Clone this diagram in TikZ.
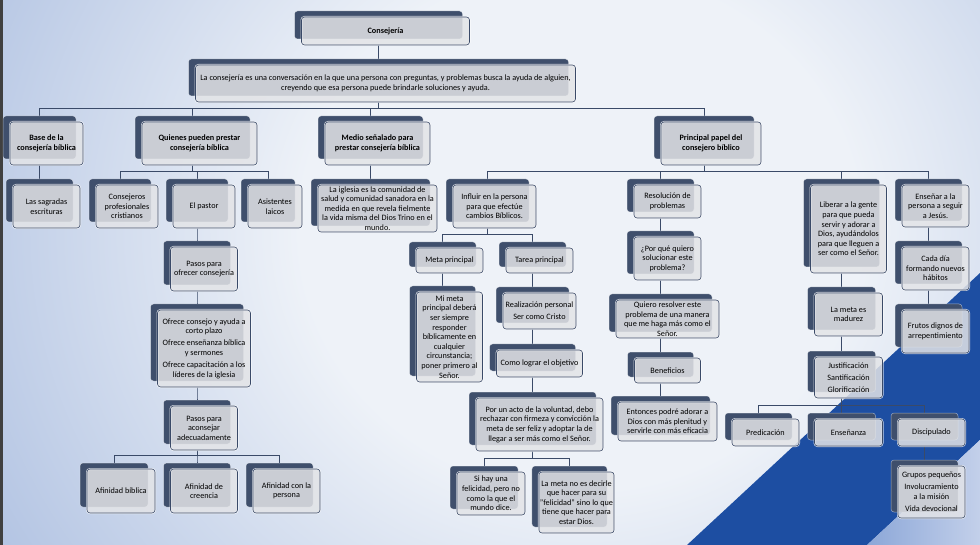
\documentclass[tikz,border=0pt]{standalone}
\usepackage{fontspec}
\setmainfont{Carlito}
\usetikzlibrary{shadows,backgrounds}

\definecolor{backc}{HTML}{3F4F6C}
\definecolor{facec}{HTML}{E3E4E7}
\definecolor{edgec}{HTML}{3A4A68}
\definecolor{linec}{HTML}{3A4A68}
\definecolor{bgmid}{HTML}{EEF2F8}
\definecolor{bgblue}{HTML}{7090CB}
\definecolor{bandc}{HTML}{1D4EA2}
\definecolor{cornera}{HTML}{8CA7D8}
\definecolor{cornerb}{HTML}{C3D0EA}

\pgfdeclareradialshading{bgglow}{\pgfpoint{0bp}{0bp}}{color(0bp)=(bgmid); color(10bp)=(bgmid); color(40bp)=(bgblue); color(50bp)=(bgblue)}

\tikzset{
  box/.style={rounded corners=3pt, draw=edgec, line width=0.6pt, fill=facec, fill opacity=0.85, text opacity=1,
    text=black, align=center, inner sep=1pt, font=\fontsize{8.2}{9.6}\selectfont,
    general shadow={fill=backc, fill opacity=1, draw=white, draw opacity=0.5, line width=0.5pt, shadow xshift=-7pt, shadow yshift=6pt},
    preaction={draw=white, draw opacity=0.75, line width=2pt}},
  head/.style={box, font=\fontsize{8.2}{9.6}\selectfont\bfseries},
  wh/.style 2 args={minimum width=#1pt, minimum height=#2pt},
  link/.style={draw=linec, line width=0.9pt},
  elbow/.style={to path={([xshift=-7pt]\tikztostart.south) |- ([xshift=-7pt,yshift=13.5pt]\tikztotarget.north) -- ([xshift=-7pt]\tikztotarget.north)}},
}

\begin{document}
\begin{tikzpicture}[x=1pt,y=-1pt]

  \useasboundingbox (0,0) rectangle (980,545);

  \begin{scope}[on background layer]
    \clip (0,0) rectangle (980,545);
    \shade[shading=bgglow] (-120,-420) rectangle (1280,880);
    \fill[bandc] (687,545) -- (980,273) -- (980,440) -- (867,545) -- cycle;
    \shade[left color=cornera, right color=cornerb] (867,545) -- (980,440) -- (980,545) -- cycle;
    \fill[black!75] (0,0) rectangle (2.5,545);
  \end{scope}

  \node[head, wh={168}{28}] (cons) at (385.5,31) {Consejería};
  \node[box, wh={380}{37}] (def) at (385.5,83.5) {La consejería es una conversación en la que una persona con preguntas, y problemas busca la ayuda de alguien,\\creyendo que esa persona puede brindarle soluciones y ayuda.};

  \node[head, wh={73}{43}] (base) at (46.5,143.5) {Base de la\\consejería bíblica};
  \node[head, wh={115}{43}] (quien) at (199.5,143.5) {Quienes pueden prestar\\consejería bíblica};
  \node[head, wh={105}{43}] (medio) at (377.5,143.5) {Medio señalado para\\prestar consejería bíblica};
  \node[head, wh={100}{43}] (papel) at (711,143.5) {Principal papel del\\consejero bíblico};

  \node[box, wh={67}{43}] (sagradas) at (46.5,206.5) {Las sagradas\\escrituras};
  \node[box, wh={62}{43}] (consej) at (127,206.5) {Consejeros\\profesionales\\cristianos};
  \node[box, wh={62}{43}] (pastor) at (204,206.5) {El pastor};
  \node[box, wh={54}{43}] (asist) at (275,206.5) {Asistentes\\laicos};
  \node[box, wh={119}{47}] (iglesia) at (377.5,208.5) {La iglesia es la comunidad de\\salud y comunidad sanadora en la\\medida en que revela fielmente\\la vida misma del Dios Trino en el\\mundo.};
  \node[box, wh={83}{43}] (influir) at (494.5,206.5) {Influir en la persona\\para que efectúe\\cambios Bíblicos.};
  \node[box, wh={67}{33}] (resol) at (667.5,201.5) {Resolución de\\problemas};
  \node[box, wh={76}{88}] (liberar) at (848.5,229) {Liberar a la gente\\para que pueda\\servir y adorar a\\Dios, ayudándolos\\para que lleguen a\\ser como el Señor.};
  \node[box, wh={67}{42}] (ensenar) at (935.5,206) {Enseñar a la\\persona a seguir\\a Jesús.};

  \node[box, wh={67}{44}] (pasos1) at (204,269) {Pasos para\\ofrecer consejería};
  \node[box, wh={93}{77}] (ofrece) at (204,348.5) {Ofrece consejo y ayuda a\\corto plazo\\[2.5pt]Ofrece enseñanza bíblica\\y sermones\\[2.5pt]Ofrece capacitación a los\\líderes de la iglesia};
  \node[box, wh={67}{44}] (pasos2) at (204,428) {Pasos para\\aconsejar\\adecuadamente};
  \node[box, wh={68}{44}] (afin1) at (121,491) {Afinidad bíblica};
  \node[box, wh={67}{44}] (afin2) at (204,491) {Afinidad de\\creencia};
  \node[box, wh={67}{44}] (afin3) at (286.5,491) {Afinidad con la\\persona};

  \node[box, wh={67}{25}] (meta) at (449.5,260.5) {Meta principal};
  \node[box, wh={67}{25}] (tarea) at (539.5,260.5) {Tarea principal};
  \node[box, wh={66}{90}] (mimeta) at (449.5,337) {Mi meta\\principal deberá\\ser siempre\\responder\\bíblicamente en\\cualquier\\circunstancia;\\poner primero al\\Señor.};
  \node[box, wh={73}{36}] (realiz) at (539.5,311) {Realización personal\\[2.5pt]Ser como Cristo};
  \node[box, wh={86}{27}] (como) at (539.5,363.5) {Como lograr el objetivo};
  \node[box, wh={127}{53}] (acto) at (539.5,424.5) {Por un acto de la voluntad, debo\\rechazar con firmeza y convicción la\\meta de ser feliz y adoptar la de\\llegar a ser más como el Señor.};
  \node[box, wh={68}{43}] (sihay) at (491,493.5) {Si hay una\\felicidad, pero no\\como la que el\\mundo dice.};
  \node[box, wh={73}{61}] (lameta) at (576.5,502.5) {La meta no es decirle\\que hacer para su\\"felicidad" sino lo que\\tiene que hacer para\\estar Dios.};

  \node[box, wh={67}{43}] (porque) at (667.5,258.5) {¿Por qué quiero\\solucionar este\\problema?};
  \node[box, wh={103}{38}] (quiero) at (667.5,319) {Quiero resolver este\\problema de una manera\\que me haga más como el\\Señor.};
  \node[box, wh={66}{25}] (benef) at (667.5,370.5) {Beneficios};
  \node[box, wh={99}{39}] (entonces) at (667.5,421.5) {Entonces podré adorar a\\Dios con más plenitud y\\servirle con más eficacia};

  \node[box, wh={68}{43}] (madurez) at (848.5,314.5) {La meta es\\madurez};
  \node[box, wh={68}{41}] (justif) at (848.5,377.5) {Justificación\\[2.5pt]Santificación\\[2.5pt]Glorificación};
  \node[box, wh={67}{27}] (predic) at (765.5,432.5) {Predicación};
  \node[box, wh={68}{27}] (ensenanza) at (848.5,432.5) {Enseñanza};
  \node[box, wh={67}{27}] (discip) at (931.5,432.5) {Discipulado};
  \node[box, wh={67}{52}] (grupos) at (931.5,492) {Grupos pequeños\\[2.5pt]Involucramiento\\a la misión\\[2.5pt]Vida devocional};

  \node[box, wh={67}{43}] (cada) at (935.5,268.5) {Cada día\\formando nuevos\\hábitos};
  \node[box, wh={67}{43}] (frutos) at (935.5,331.5) {Frutos dignos de\\arrepentimiento};

  \begin{scope}[on background layer]
    \draw[link] (cons) to[elbow] (def);
    \foreach \c in {base,quien,medio,papel}
      \draw[link] (def) to[elbow] (\c);
    \draw[link] (base) to[elbow] (sagradas);
    \foreach \c in {consej,pastor,asist}
      \draw[link] (quien) to[elbow] (\c);
    \draw[link] (medio) to[elbow] (iglesia);
    \foreach \c in {influir,resol,liberar,ensenar}
      \draw[link] (papel) to[elbow] (\c);
    \draw[link] (pastor) to[elbow] (pasos1);
    \draw[link] (pasos1) to[elbow] (ofrece);
    \draw[link] (ofrece) to[elbow] (pasos2);
    \foreach \c in {afin1,afin2,afin3}
      \draw[link] (pasos2) to[elbow] (\c);
    \foreach \c in {meta,tarea}
      \draw[link] (influir) to[elbow] (\c);
    \draw[link] (meta) to[elbow] (mimeta);
    \draw[link] (tarea) to[elbow] (realiz);
    \draw[link] (realiz) to[elbow] (como);
    \draw[link] (como) to[elbow] (acto);
    \foreach \c in {sihay,lameta}
      \draw[link] (acto) to[elbow] (\c);
    \draw[link] (resol) to[elbow] (porque);
    \draw[link] (porque) to[elbow] (quiero);
    \draw[link] (quiero) to[elbow] (benef);
    \draw[link] (benef) to[elbow] (entonces);
    \draw[link] (liberar) to[elbow] (madurez);
    \draw[link] (madurez) to[elbow] (justif);
    \foreach \c in {predic,ensenanza,discip}
      \draw[link] (justif) to[elbow] (\c);
    \draw[link] (discip) to[elbow] (grupos);
    \draw[link] (ensenar) to[elbow] (cada);
    \draw[link] (cada) to[elbow] (frutos);
  \end{scope}

\end{tikzpicture}
\end{document}
